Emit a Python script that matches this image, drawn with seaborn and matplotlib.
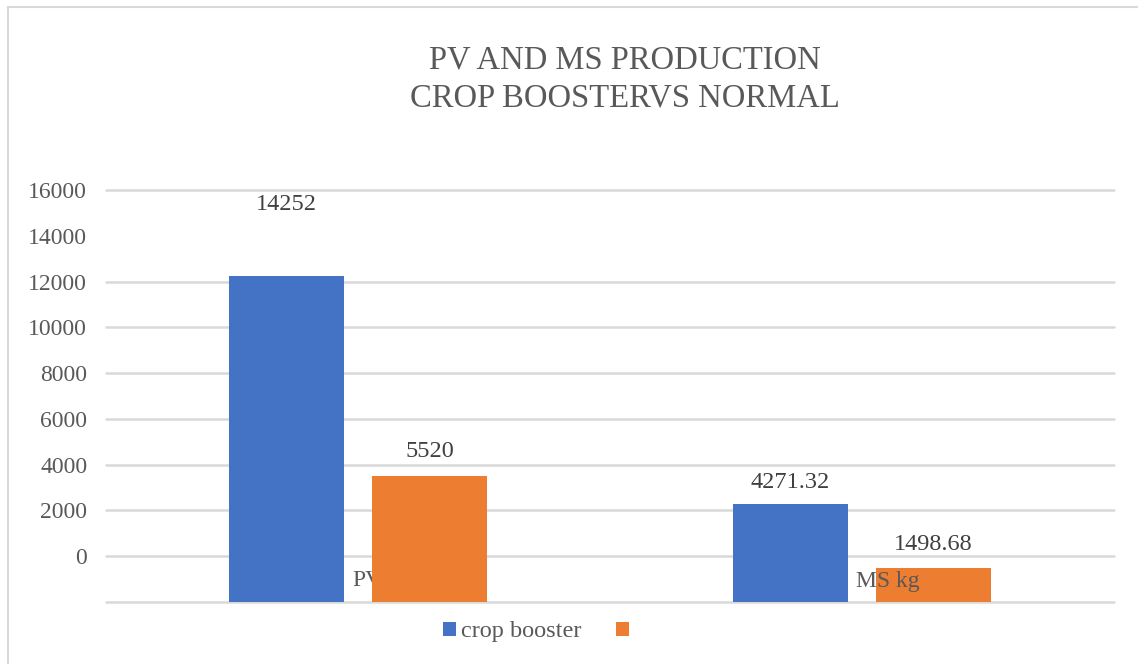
import numpy as np
import pandas as pd
import matplotlib
matplotlib.use("Agg")
import matplotlib.pyplot as plt
from matplotlib.patches import Rectangle
import seaborn as sns

# Data
categories = ["PV", "MS kg"]
series_names = ["crop booster", " "]
crop_booster = [14252, 4271.32]
normal = [5520, 1498.68]
value_labels = [["14252", "4271.32"], ["5520", "1498.68"]]
ytick_labels = ["0", "2000", "4000", "6000", "8000", "10000", "12000", "14000", "16000"]

df = pd.DataFrame({
    "category": categories * 2,
    "series": [series_names[0]] * 2 + [series_names[1]] * 2,
    "value": crop_booster + normal,
})

sns.set_theme(style="white")
plt.rcParams["font.family"] = ["Liberation Serif", "DejaVu Serif"]

W, H = 1138, 664
fig = plt.figure(figsize=(W / 100, H / 100), dpi=100)
ax = fig.add_axes([106 / W, (H - 602) / H, (1114 - 106) / W, (602 - 190) / H])

sns.barplot(data=df, x="category", y="value", hue="series",
            order=categories, hue_order=series_names,
            palette=["#4472C4", "#ED7D31"], saturation=1, width=0.567, gap=0.2,
            errorbar=None, linewidth=0, legend=False, ax=ax)

ax.set_xlim(-0.5, 1.5)
ax.set_ylim(0, 18000)

# gridlines every 2000, labels sit one step up as in the reference
ax.set_yticks(np.arange(0, 18001, 2000))
ax.set_yticklabels([""] + ytick_labels)
ax.grid(axis="y", color="#d9d9d9", linewidth=1.8)
ax.set_axisbelow(True)
for gl in ax.yaxis.get_gridlines():
    gl.set_clip_on(False)
ax.yaxis.get_gridlines()[8].set_visible(False)
for s in ax.spines.values():
    s.set_visible(False)
ax.tick_params(axis="y", length=0, pad=13.5, labelsize=17, labelcolor="#595959")
ax.set_xticks([])
ax.set_xlabel("")
ax.set_ylabel("")

# category labels start just left of the group centre (PV is partly hidden by its bar)
cat_zorder = [0.8, 3]
for i, name in enumerate(categories):
    ax.annotate(name, (i, 0), xytext=(-6, 21), textcoords="offset pixels",
                ha="left", va="center", fontsize=17, color="#595959",
                zorder=cat_zorder[i], annotation_clip=False)

# value labels
label_pad_px = [[71, 22], [24, 23]]
for i, cont in enumerate(ax.containers):
    for j, bar in enumerate(cont.patches):
        ax.annotate(value_labels[i][j],
                    (bar.get_x() + bar.get_width() / 2, bar.get_height()),
                    xytext=(0, label_pad_px[i][j]), textcoords="offset pixels",
                    ha="center", va="center", fontsize=17.5, color="#404040",
                    annotation_clip=False)

# legend under the plot
handles = [c.patches[0] for c in ax.containers]
fig.legend(handles, series_names, loc="center left",
           bbox_to_anchor=(443 / W, 1 - 632 / H), ncol=2, frameon=False,
           fontsize=17.5, labelcolor="#595959", handlelength=0.55, handleheight=0.55,
           handletextpad=0.2, columnspacing=1.4, borderpad=0, borderaxespad=0)

fig.text(625 / W, 1 - 79 / H, "PV AND MS PRODUCTION\nCROP BOOSTERVS NORMAL",
         ha="center", va="center", fontsize=23.5, color="#595959", linespacing=1.3)

# outer chart frame
fig.patches.append(Rectangle((8 / W, -0.1), 1.2, 1.1 - 7 / H, transform=fig.transFigure,
                             fill=False, edgecolor="#d9d9d9", linewidth=1.5))

fig.savefig("out.png", dpi=100)
